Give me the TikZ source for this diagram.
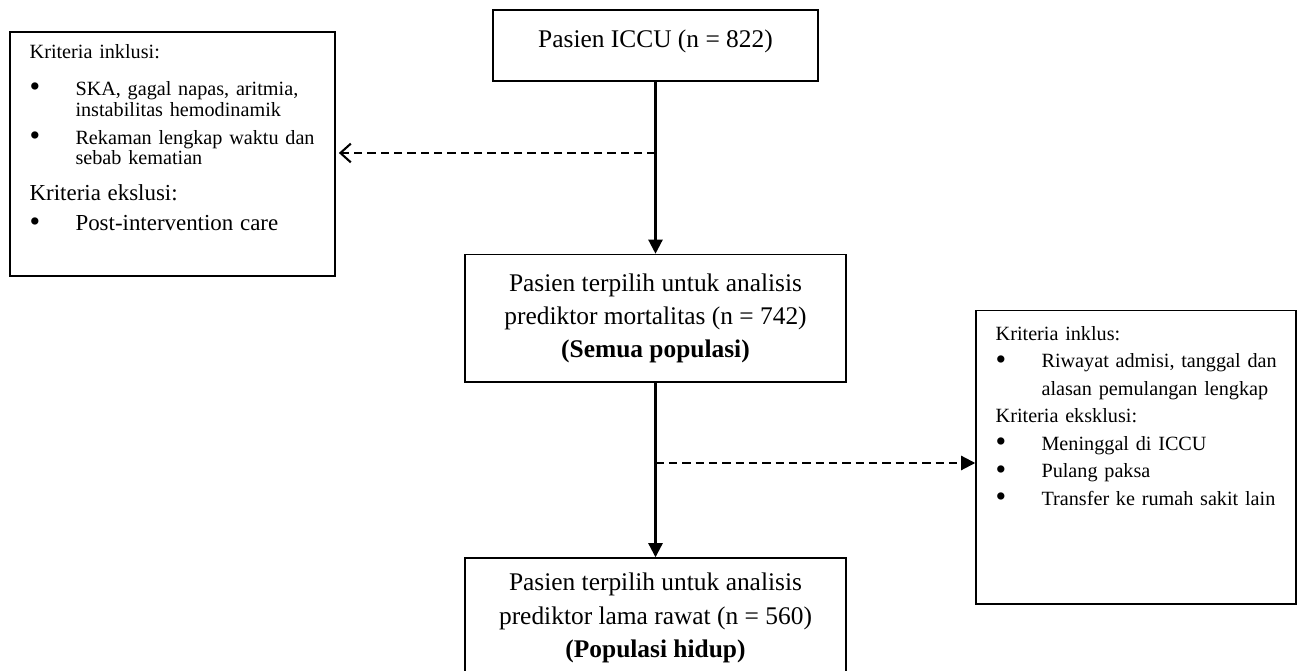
\documentclass[tikz,border=0pt]{standalone}
\usepackage{fontspec}
\usepackage{graphicx}
\setmainfont{Liberation Serif}
\usetikzlibrary{arrows.meta,positioning}
\tikzset{every picture/.style={
  >={Triangle[length=6.8pt,width=6.8pt]}   % Filled arrow heads.
  }
}
\newcommand{\critfont}{\fontsize{9.7}{13.2}\selectfont}
\newcommand{\critbig}{\fontsize{11}{13.2}\selectfont}
\newcommand{\critbul}{\makebox[22pt][l]{\raisebox{-0.7pt}{\scalebox{1.5}{\textbullet}}}}
\newcommand{\critcont}{\hspace*{22pt}}

\begin{document}
\begin{tikzpicture}[x=0.48pt,y=-0.48pt,
    flow/.style={               % Boxes of the patient flow.
      rectangle,
      draw,
      line width=0.7pt,
      align=center,
      font=\fontsize{12.2}{16}\selectfont,
      minimum width=183pt,
      inner sep=0pt
    },
    crit/.style={               % Boxes listing the criteria.
      rectangle,
      draw,
      line width=0.7pt,
      inner sep=0pt
    },
    crittxt/.style={            % Text inside the criteria boxes.
      anchor=north west,
      inner sep=0pt,
      text width=146pt,
      align=left,
      font=\critfont
    },
    main/.style={               % Solid flow arrows.
      line width=1.1pt,
      ->
    },
    side/.style={               % Dashed arrows to the criteria.
      line width=1pt,
      dash pattern=on 4pt off 2.4pt
    }]
    \useasboundingbox (0,0) rectangle (1298,671);

    % Patient flow.
    \node[flow,minimum width=156pt,minimum height=34pt,text depth=6.5pt]
      (iccu) at (655.5,45.5) {Pasien ICCU (n = 822)};
    \node[flow,minimum height=61.3pt] (allpop) [below=82.6pt of iccu]
      {Pasien terpilih untuk analisis\\prediktor mortalitas (n = 742)\\
       \textbf{(Semua populasi)}};
    \node[flow,minimum height=57.6pt] (alive) [below=83.7pt of allpop]
      {Pasien terpilih untuk analisis\\prediktor lama rawat (n = 560)\\
       \textbf{(Populasi hidup)}};

    % Criteria boxes.
    \node[crit,minimum width=156pt,minimum height=117.1pt] (incl)
      at (172.5,154) {};
    \node[crittxt] (incltxt) at ([xshift=9.6pt,yshift=-5.9pt] incl.north west)
      {Kriteria inklusi:\\[4.6pt]
       \critbul SKA, gagal napas, aritmia,\\[-3.1pt]
       \critcont instabilitas hemodinamik\\[0.2pt]
       \critbul Rekaman lengkap waktu dan\\[-3.6pt]
       \critcont sebab kematian\\[4.1pt]
       {\critbig Kriteria ekslusi:}\\[1.2pt]
       \critbul{\critbig Post-intervention care}};
    \node[crit,minimum width=153.6pt,minimum height=140.8pt] (excl)
      at (1136,457.4) {};
    \node[crittxt] (excltxt) at ([xshift=9.6pt,yshift=-7.5pt] excl.north west)
      {Kriteria inklus:\\
       \critbul Riwayat admisi, tanggal dan\\
       \critcont alasan pemulangan lengkap\\
       Kriteria eksklusi:\\
       \critbul Meninggal di ICCU\\
       \critbul Pulang paksa\\
       \critbul Transfer ke rumah sakit lain};

    % Arrows.
    \draw[main] (iccu) -- (allpop);
    \draw[main] (allpop) -- (alive);
    \coordinate (split1) at (655.5,153);
    \coordinate (split2) at (655.5,463);
    \draw[side,-{Straight Barb[length=5pt,width=9pt]},shorten >=1.5pt]
      (split1) -- (split1 -| incl.east);
    \draw[side,->] (split2) -- (split2 -| excl.west);
  \end{tikzpicture}
\end{document}
